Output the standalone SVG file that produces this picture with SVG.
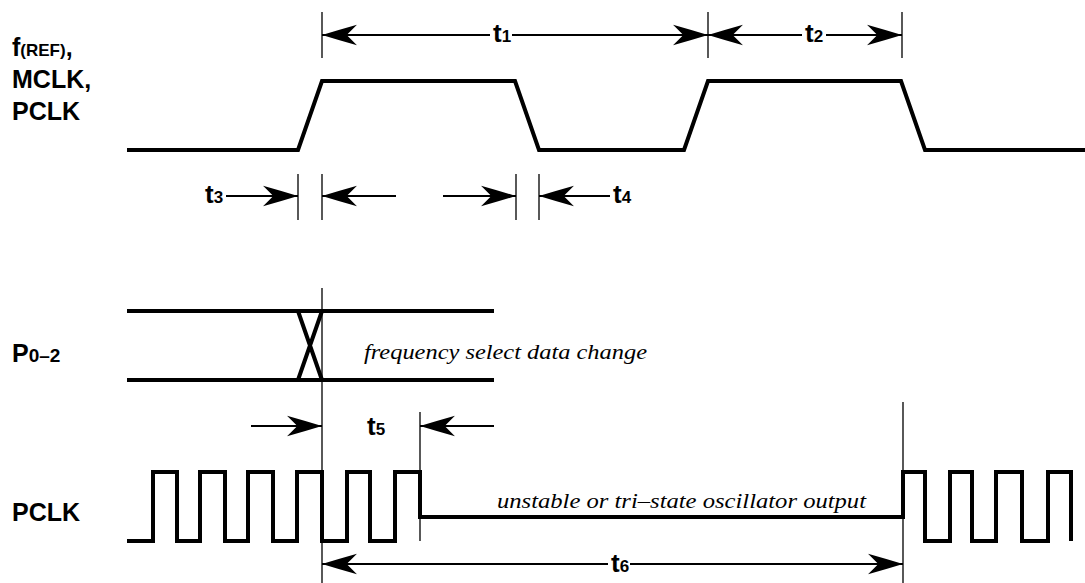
<svg xmlns="http://www.w3.org/2000/svg" width="1085" height="583" viewBox="0 0 1085 583">
<style>
.wave{fill:none;stroke:#000;stroke-width:4;stroke-linejoin:miter}
.tick{stroke:#000;stroke-width:1.3;fill:none}
.dim{stroke:#000;stroke-width:2;fill:none;marker-end:url(#ah)}
.lbl{font-family:"Liberation Sans",Arial,sans-serif;font-weight:bold;fill:#000}
.t{font-family:"Liberation Sans",Arial,sans-serif;font-weight:bold;font-size:26px;fill:#000}
.note{font-family:"Liberation Serif","Times New Roman",serif;font-style:italic;fill:#000}
</style>
<defs>
<marker id="ah" markerUnits="userSpaceOnUse" markerWidth="36" markerHeight="22" refX="34" refY="10" orient="auto" viewBox="0 0 35 20">
<path d="M34,10 Q16,4.5 0,0 L10,10 L0,20 Q16,15.5 34,10 Z" fill="#000"/>
</marker>
</defs>
<rect width="1085" height="583" fill="#fff"/>

<g id="label-fref">
<text class="lbl" x="12" y="56" font-size="25">f<tspan font-size="17">(REF)</tspan>,</text>
<text class="lbl" x="12" y="88" font-size="25">MCLK,</text>
<text class="lbl" x="12" y="120" font-size="25">PCLK</text>
</g>
<g id="label-p02">
<text class="lbl" x="12" y="362" font-size="25">P<tspan font-size="19">0–2</tspan></text>
</g>
<g id="label-pclk">
<text class="lbl" x="12" y="521" font-size="25">PCLK</text>
</g>

<g id="wave-ref">
<path class="wave" d="M127,150 H298 L322,81 H515 L539,150 H684 L708,81 H901 L925,150 H1085"/>
</g>
<g id="wave-p02">
<path class="wave" d="M127,311 H494 M127,380 H494 M298,311 L322,380 M322,311 L298,380"/>
<text class="note" x="364" y="359" font-size="22" textLength="283" lengthAdjust="spacingAndGlyphs">frequency select data change</text>
</g>
<g id="wave-pclk">
<path class="wave" d="M127,541 H153 V472 H177 V541 H200 V472 H225 V541 H248 V472 H273 V541 H297 V472 H322 V541 H347 V472 H370 V541 H395 V472 H420 V517 H903 V472 H925 V541 H950 V472 H972 V541 H996 V472 H1022 V541 H1048 V472 H1071 V541"/>
<text class="note" x="497" y="508" font-size="22" textLength="369" lengthAdjust="spacingAndGlyphs">unstable or tri–state oscillator output</text>
</g>

<g id="connectors">
<path class="tick" d="M322,12 V58 M708,12 V58 M902,12 V58"/>
<path class="tick" d="M298,174 V220 M322,174 V220 M516,174 V220 M539,174 V220"/>
<path class="tick" d="M322,288 V583 M420,412 V541 M903,402 V583"/>
<line class="dim" x1="490" y1="35" x2="322" y2="35"/>
<line class="dim" x1="512" y1="35" x2="708" y2="35"/>
<line class="dim" x1="802" y1="35" x2="708" y2="35"/>
<line class="dim" x1="826" y1="35" x2="902" y2="35"/>
<line class="dim" x1="226" y1="196" x2="298" y2="196"/>
<line class="dim" x1="396" y1="196" x2="322" y2="196"/>
<line class="dim" x1="443" y1="196" x2="516" y2="196"/>
<line class="dim" x1="610" y1="196" x2="539" y2="196"/>
<line class="dim" x1="251" y1="426" x2="322" y2="426"/>
<line class="dim" x1="494" y1="426" x2="420" y2="426"/>
<line class="dim" x1="608" y1="564" x2="322" y2="564"/>
<line class="dim" x1="630" y1="564" x2="903" y2="564"/>
</g>

<g id="dim-labels">
<text class="t" x="493" y="42">t<tspan font-size="17">1</tspan></text>
<text class="t" x="805" y="42">t<tspan font-size="17">2</tspan></text>
<text class="t" x="205" y="203">t<tspan font-size="17">3</tspan></text>
<text class="t" x="613" y="203">t<tspan font-size="17">4</tspan></text>
<text class="t" x="367" y="435">t<tspan font-size="17">5</tspan></text>
<text class="t" x="611" y="572">t<tspan font-size="17">6</tspan></text>
</g>
</svg>
